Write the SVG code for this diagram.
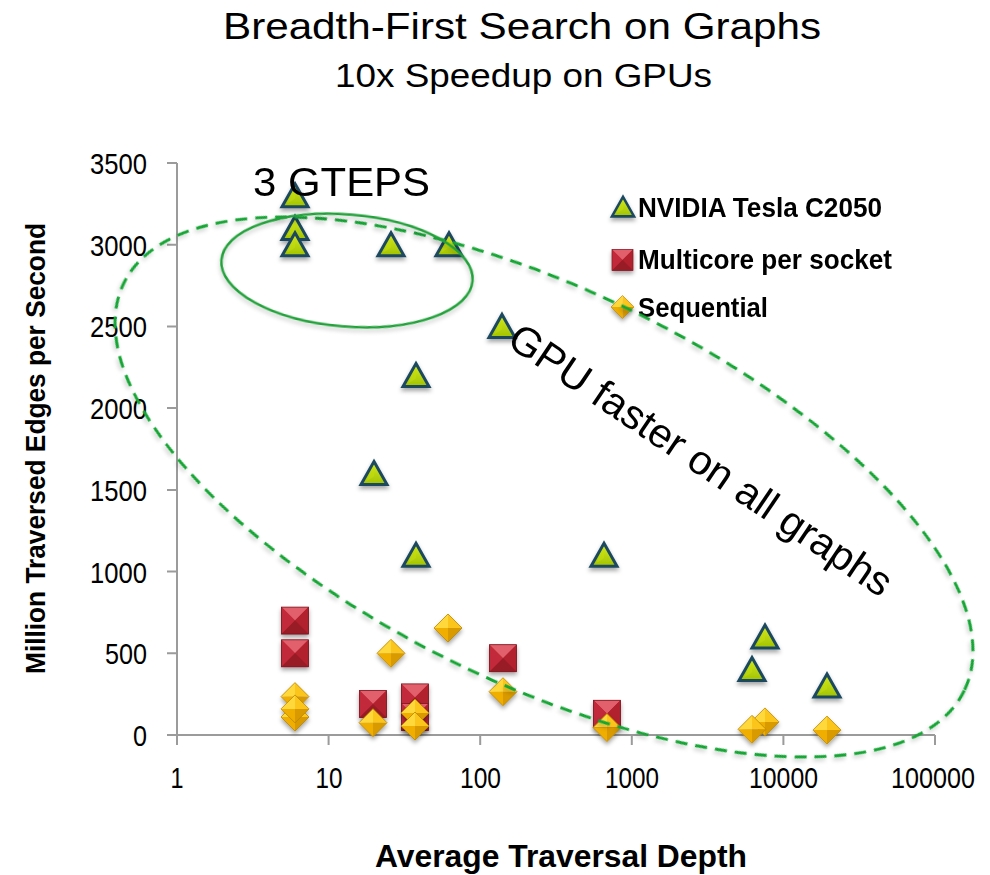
<svg xmlns="http://www.w3.org/2000/svg" xmlns:xlink="http://www.w3.org/1999/xlink" width="990" height="875" viewBox="0 0 990 875">
<style>
text{font-family:"Liberation Sans",Arial,sans-serif;fill:#000}
.title{font-size:37px}
.sub{font-size:33.5px}
.tick{font-family:"Liberation Sans Narrow","Arial Narrow","Liberation Sans",sans-serif;font-size:30px}
.axt{font-size:28px;font-weight:bold}
.leg{font-size:28px;font-weight:bold}
.ann{font-size:41px}
.axis{stroke:#9b9b9b;stroke-width:2;fill:none}
.dash{fill:none;stroke:#16a534;stroke-width:3;stroke-dasharray:12 8}
.solid{fill:none;stroke:#23a13a;stroke-width:2.5}
</style>
<defs>
<filter id="sh" x="-40%" y="-40%" width="180%" height="190%">
<feDropShadow dx="0" dy="3" stdDeviation="2" flood-color="#000" flood-opacity="0.35"/>
</filter>
<filter id="lsh" x="-10%" y="-10%" width="120%" height="125%">
<feDropShadow dx="0" dy="3" stdDeviation="2" flood-color="#000" flood-opacity="0.22"/>
</filter>
<linearGradient id="trg" x1="0" y1="0" x2="0" y2="1">
<stop offset="0" stop-color="#d4ea22"/>
<stop offset="1" stop-color="#a3c300"/>
</linearGradient>
<g id="tr">
<polygon points="0,-12 13,11 -13,11" fill="url(#trg)" stroke="#1d4a5e" stroke-width="3"/>
<polygon points="0,-8 0,3 -8,8" fill="#c3dd0c" opacity="0.5"/>
</g>
<g id="sq">
<rect x="-13.5" y="-13.5" width="27" height="27" fill="#b8212f"/>
<polygon points="-13.5,-13.5 13.5,-13.5 0,0" fill="#e2606c"/>
<polygon points="-13.5,-13.5 0,0 -13.5,13.5" fill="#c22a3a"/>
<polygon points="13.5,-13.5 0,0 13.5,13.5" fill="#b1202e"/>
<polygon points="-13.5,13.5 13.5,13.5 0,0" fill="#981a27"/>
<rect x="-13.5" y="-13.5" width="27" height="27" fill="none" stroke="#7d1520" stroke-width="0.8"/>
</g>
<g id="dm">
<polygon points="-14,0 0,-14 0,0" fill="#ffd93a"/>
<polygon points="0,-14 14,0 0,0" fill="#fbc51c"/>
<polygon points="-14,0 0,14 0,0" fill="#efae00"/>
<polygon points="0,0 14,0 0,14" fill="#d99a00"/>
<polygon points="-14,0 0,-14 14,0 0,14" fill="none" stroke="#b98600" stroke-width="0.8"/>
</g>
</defs>
<rect width="990" height="875" fill="#fff"/>

<g id="title">
<text class="title" x="522" y="39" text-anchor="middle" textLength="598" lengthAdjust="spacingAndGlyphs">Breadth-First Search on Graphs</text>
<text class="sub" x="523.5" y="87" text-anchor="middle" textLength="377" lengthAdjust="spacingAndGlyphs">10x Speedup on GPUs</text>
</g>

<g id="axes">
<path class="axis" d="M177,163 V745 M167,735 H935"/>
<path class="axis" d="M167,163 H177 M167,244.7 H177 M167,326.4 H177 M167,408.1 H177 M167,489.9 H177 M167,571.6 H177 M167,653.3 H177 M328.6,735 V745 M480.2,735 V745 M631.8,735 V745 M783.4,735 V745 M935,735 V745"/>
<g class="tick" text-anchor="end">
<text x="147" y="746" textLength="14" lengthAdjust="spacingAndGlyphs">0</text>
<text x="147" y="664.3" textLength="42" lengthAdjust="spacingAndGlyphs">500</text>
<text x="147" y="582.6" textLength="57" lengthAdjust="spacingAndGlyphs">1000</text>
<text x="147" y="500.9" textLength="57" lengthAdjust="spacingAndGlyphs">1500</text>
<text x="147" y="419.1" textLength="57" lengthAdjust="spacingAndGlyphs">2000</text>
<text x="147" y="337.4" textLength="57" lengthAdjust="spacingAndGlyphs">2500</text>
<text x="147" y="255.7" textLength="57" lengthAdjust="spacingAndGlyphs">3000</text>
<text x="147" y="174" textLength="57" lengthAdjust="spacingAndGlyphs">3500</text>
</g>
<g class="tick" text-anchor="middle">
<text x="177" y="788" textLength="13" lengthAdjust="spacingAndGlyphs">1</text>
<text x="329" y="788" textLength="27" lengthAdjust="spacingAndGlyphs">10</text>
<text x="480.5" y="788" textLength="41" lengthAdjust="spacingAndGlyphs">100</text>
<text x="632" y="788" textLength="54" lengthAdjust="spacingAndGlyphs">1000</text>
<text x="783.5" y="788" textLength="69" lengthAdjust="spacingAndGlyphs">10000</text>
<text x="933" y="788" textLength="84" lengthAdjust="spacingAndGlyphs">100000</text>
</g>
<text class="axt" transform="translate(45,448.5) rotate(-90)" text-anchor="middle" textLength="451" lengthAdjust="spacingAndGlyphs">Million Traversed Edges per Second</text>
<text class="axt" x="561" y="867" text-anchor="middle" style="font-size:31px" textLength="372" lengthAdjust="spacingAndGlyphs">Average Traversal Depth</text>
</g>

<g id="gpu-series" filter="url(#sh)">
<use href="#tr" x="295" y="195.7"/>
<use href="#tr" x="295" y="228.4"/>
<use href="#tr" x="295" y="244.7"/>
<use href="#tr" x="391" y="244.7"/>
<use href="#tr" x="449" y="244.7"/>
<use href="#tr" x="502" y="326.4"/>
<use href="#tr" x="416" y="375.5"/>
<use href="#tr" x="374" y="473.5"/>
<use href="#tr" x="416" y="555.2"/>
<use href="#tr" x="604" y="555.2"/>
<use href="#tr" x="765" y="637"/>
<use href="#tr" x="752" y="669.6"/>
<use href="#tr" x="827" y="686"/>
</g>

<g id="multicore-series" filter="url(#sh)">
<use href="#sq" x="295" y="620.6"/>
<use href="#sq" x="295" y="653.3"/>
<use href="#sq" x="373" y="704"/>
<use href="#sq" x="415" y="697.4"/>
<use href="#sq" x="415" y="717"/>
<use href="#sq" x="503" y="658.2"/>
<use href="#sq" x="607" y="713.8"/>
</g>

<g id="sequential-series" filter="url(#sh)">
<use href="#dm" x="295" y="696.6"/>
<use href="#dm" x="295" y="717"/>
<use href="#dm" x="295" y="708.9"/>
<use href="#dm" x="373" y="722.7"/>
<use href="#dm" x="391" y="653.3"/>
<use href="#dm" x="448" y="628"/>
<use href="#dm" x="415" y="713"/>
<use href="#dm" x="415" y="726"/>
<use href="#dm" x="503" y="691.7"/>
<use href="#dm" x="607" y="727.6"/>
<use href="#dm" x="765" y="721.9"/>
<use href="#dm" x="752" y="729.3"/>
<use href="#dm" x="827" y="730.1"/>
</g>

<g id="legend">
<g filter="url(#sh)">
<use href="#tr" transform="translate(623,207) scale(0.85)"/>
<use href="#sq" transform="translate(622.5,260) scale(0.78)"/>
<use href="#dm" transform="translate(622.5,307) scale(0.82)"/>
</g>
<text class="leg" x="638" y="217" textLength="244" lengthAdjust="spacingAndGlyphs">NVIDIA Tesla C2050</text>
<text class="leg" x="638" y="269" textLength="254" lengthAdjust="spacingAndGlyphs">Multicore per socket</text>
<text class="leg" x="638" y="317" textLength="130" lengthAdjust="spacingAndGlyphs">Sequential</text>
</g>

<g id="annotations">
<ellipse class="dash" filter="url(#lsh)" cx="544" cy="487" rx="467" ry="197" transform="rotate(25.85 544 487)"/>
<ellipse class="solid" filter="url(#lsh)" cx="347" cy="270.5" rx="126" ry="56" transform="rotate(4.75 347 270.5)"/>
<text class="ann" x="253" y="196" style="font-size:40px" textLength="177" lengthAdjust="spacingAndGlyphs">3 GTEPS</text>
<text class="ann" transform="translate(693,471.5) rotate(34)" text-anchor="middle" textLength="453" lengthAdjust="spacingAndGlyphs">GPU faster on all graphs</text>
</g>
</svg>
